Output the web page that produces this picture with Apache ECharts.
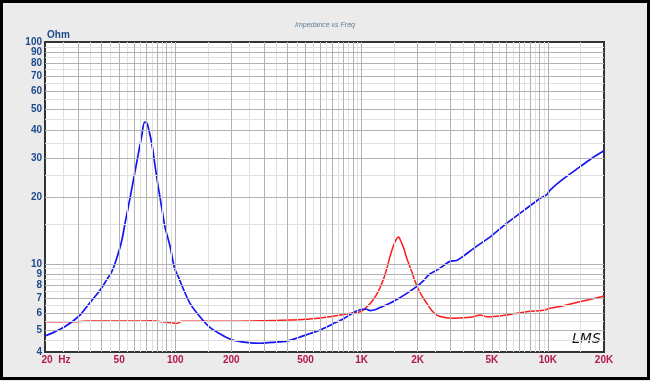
<!DOCTYPE html>
<html>
<head>
<meta charset="utf-8">
<script src="https://cdn.jsdelivr.net/npm/echarts@6/dist/echarts.min.js"></script>
<style>
html,body{margin:0;padding:0;background:#EBEBEB;}
#chart{width:650px;height:381px;}
</style>
</head>
<body>
<div id="chart"></div>
<script>
// ---- Data ----
var blueFreq = [20,22,24.1,26,28.5,31,33.5,36,39.5,43,45.6,48,51.5,54,57,60,63,66,68.5,70.5,72,75,78,81,85,88,94,99,104,112,120,135,154,180,205,240,284,330,398,460,530,600,700,800,920,982,1050,1112,1180,1258,1400,1546,1750,1972,2150,2324,2500,2750,2976,3240,3500,3980,5000,6000,7500,9060,9860,10280,12000,14900,17000,20000];
var blueOhm  = [4.72,4.88,5.06,5.25,5.55,5.9,6.4,6.9,7.6,8.5,9.2,10.3,12.6,15.5,19.5,24.5,30.5,37.5,43.5,43,40.5,34.5,27.5,22.3,17.5,14.7,11.9,9.6,8.7,7.5,6.63,5.8,5.15,4.75,4.52,4.42,4.38,4.42,4.48,4.65,4.85,5.03,5.35,5.65,6.08,6.2,6.25,6.15,6.2,6.35,6.6,6.9,7.35,7.88,8.4,9.0,9.3,9.8,10.25,10.35,10.8,11.7,13.4,15.2,17.5,19.7,20.5,21.5,24,27.4,29.7,32.3];
var redFreq = [20,30,35,60,75,85,95,100,104,108,150,200,300,400,500,600,678,800,900,982,1025,1080,1152,1230,1306,1360,1422,1480,1546,1580,1608,1680,1754,1860,1972,2100,2240,2380,2530,2800,3110,3660,3980,4320,4700,5300,6000,7700,9450,10280,12000,13700,16500,20000];
var redOhm  = [5.48,5.48,5.52,5.52,5.53,5.48,5.42,5.38,5.4,5.5,5.5,5.5,5.53,5.57,5.62,5.7,5.77,5.9,6.0,6.08,6.2,6.45,6.86,7.5,8.44,9.4,10.8,12.0,13.0,13.2,12.9,11.8,10.5,9.2,8.0,7.2,6.63,6.15,5.87,5.72,5.68,5.72,5.77,5.87,5.77,5.8,5.87,6.08,6.17,6.3,6.45,6.63,6.88,7.15];

var xTickValues = [20,50,100,200,500,1000,2000,5000,10000,20000];
var xTickLabels = ['20  Hz','50','100','200','500','1K','2K','5K','10K','20K'];
var yTickValues = [4,5,6,7,8,9,10,20,30,40,50,60,70,80,90,100];
var yTickLabels = ['4','5','6','7','8','9','10','20','30','40','50','60','70','80','90','100'];

var titleText = 'Impedance vs Freq';
var unitText = 'Ohm';

// ---- Grid line values (decade multiples and half steps) ----
function decadeLines(lo, hi) {
  var major = [], minor = [];
  for (var d = 1; d <= 100000; d *= 10) {
    for (var m = 1; m <= 9; m++) {
      var v = m * d;
      if (v > lo && v < hi) major.push(v);
      var h = (m + 0.5) * d;
      if (h > lo && h < hi) minor.push(h);
    }
  }
  return {major: major, minor: minor};
}
var xl = decadeLines(20, 20000);
var yl = decadeLines(4, 100);

var MAJOR = '#b2b2b2', MINOR = '#e0e0e0';
var gridData = [];
xl.minor.forEach(function(v){ gridData.push({xAxis: v, lineStyle:{color:MINOR,width:1,type:'solid'}}); });
yl.minor.forEach(function(v){ gridData.push({yAxis: v, lineStyle:{color:MINOR,width:1,type:'solid'}}); });
xl.major.forEach(function(v){ gridData.push({xAxis: v, lineStyle:{color:MAJOR,width:1,type:'solid'}}); });
yl.major.forEach(function(v){ gridData.push({yAxis: v, lineStyle:{color:MAJOR,width:1,type:'solid'}}); });

var labelFont = "'Liberation Sans Narrow','Arial Narrow','Liberation Sans',sans-serif";
var labelData = [];
xTickValues.forEach(function(v, i){
  labelData.push({xAxis: v, lineStyle:{color:'rgba(0,0,0,0)', width:0},
    label:{show:true, position:'start', distance:3, formatter: xTickLabels[i], color:'#B3184C',
      fontWeight:'bold', fontSize:10, fontFamily: labelFont,
      padding: i === 0 ? [0,0,0,22] : 0}});
});
yTickValues.forEach(function(v, i){
  labelData.push({yAxis: v, lineStyle:{color:'rgba(0,0,0,0)', width:0},
    label:{show:true, position:'start', distance:3, formatter: yTickLabels[i], color:'#1C4A8C',
      fontWeight:'bold', fontSize:10, fontFamily: labelFont}});
});

function pairs(xs, ys){ return xs.map(function(x,i){ return [x, ys[i]]; }); }

var chart = echarts.init(document.getElementById('chart'), null, {renderer:'canvas'});
chart.setOption({
  animation: false,
  backgroundColor: '#EBEBEB',
  title: {text: titleText, left: 'center', top: 17,
    textStyle:{fontSize:7, fontStyle:'italic', fontWeight:'normal', color:'#5F7E96', fontFamily:'Liberation Sans, sans-serif'}},
  grid: {left:45, right:46, top:42, bottom:29, show:true, backgroundColor:'#ffffff', borderColor:'#333333', borderWidth:2, containLabel:false},
  xAxis: {type:'log', logBase:10, min:20, max:20000,
    axisLine:{show:false}, axisTick:{show:false}, axisLabel:{show:false}, splitLine:{show:false}, minorSplitLine:{show:false}},
  yAxis: {type:'log', logBase:10, min:4, max:100,
    axisLine:{show:false}, axisTick:{show:false}, axisLabel:{show:false}, splitLine:{show:false}, minorSplitLine:{show:false}},
  graphic: [
    {type:'text', left:47, top:30, style:{text: unitText, fill:'#1C4A8C', font:"bold 10px 'Liberation Sans Narrow','Liberation Sans',sans-serif"}},
    {type:'text', left:572, top:332, style:{text:'LMS', fill:'#111', font:"italic 14px 'DejaVu Sans',sans-serif"}},
    {type:'rect', shape:{x:1.5, y:1.5, width:647, height:377}, style:{fill:null, stroke:'#000', lineWidth:3}, z:100}
  ],
  series: [
    {type:'line', name:'grid', data:[], z:1, silent:true,
      markLine:{silent:true, symbol:['none','none'], animation:false, label:{show:false}, data: gridData}},
    {type:'line', name:'labels', data:[], z:1, silent:true,
      markLine:{silent:true, symbol:['none','none'], animation:false, data: labelData}},
    {type:'line', name:'Blue', data: pairs(blueFreq, blueOhm), showSymbol:false, smooth:0.3, z:4,
      lineStyle:{color:'#1414F5', width:1.7}},
    {type:'line', name:'Red', data: pairs(redFreq, redOhm), showSymbol:false, smooth:0.3, z:3,
      lineStyle:{color:'#FF1A1A', width:1.5}}
  ]
});
</script>
</body>
</html>
